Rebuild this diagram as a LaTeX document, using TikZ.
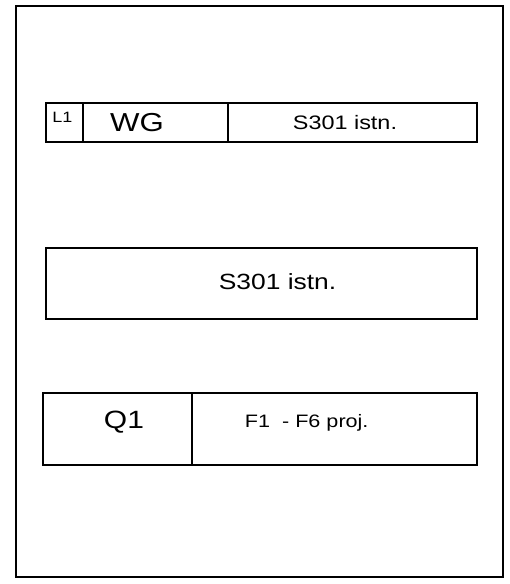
\documentclass[tikz,border=0pt]{standalone}
\usepackage{fontspec}
\setmainfont{Liberation Sans}[FakeStretch=1.2]
\begin{document}
\begin{tikzpicture}[x=1pt,y=-1pt,
  frame/.style={draw=black,line width=2pt},
  cell/.style={draw=black,line width=1.5pt},
  lbl/.style={inner sep=0pt,anchor=base,text=black}]
\useasboundingbox (0,0) rectangle (510,584);
% outer frame
\draw[frame] (16,6) rectangle (503,577);
% top row: L1 | WG | S301 istn.
\draw[cell] (46,103) rectangle (477,142);
\draw[cell] (83,103) -- (83,142);
\draw[cell] (228,103) -- (228,142);
\node[lbl,font=\fontsize{15}{17}\selectfont] (l1) at (62.5,122) {L1};
\node[lbl,font=\fontsize{26}{30}\selectfont] (wg) at (137,131.5) {WG};
\node[lbl,font=\fontsize{19.5}{23}\selectfont] (s1) at (345,129.5) {S301 istn.};
% middle row
\draw[cell] (46,248) rectangle (477,319);
\node[lbl,font=\fontsize{22}{26}\selectfont] (s2) at (277.5,289.5) {S301 istn.};
% bottom row: Q1 | F1 - F6 proj.
\draw[cell] (43,393) rectangle (477,465);
\draw[cell] (192,393) -- (192,465);
\node[lbl,font=\fontsize{25}{29}\selectfont] (q1) at (124,428.5) {Q1};
\node[lbl,font=\fontsize{18}{21}\selectfont] (f1) at (306.7,427) {F1\ \ - F6 proj.};
\end{tikzpicture}
\end{document}
